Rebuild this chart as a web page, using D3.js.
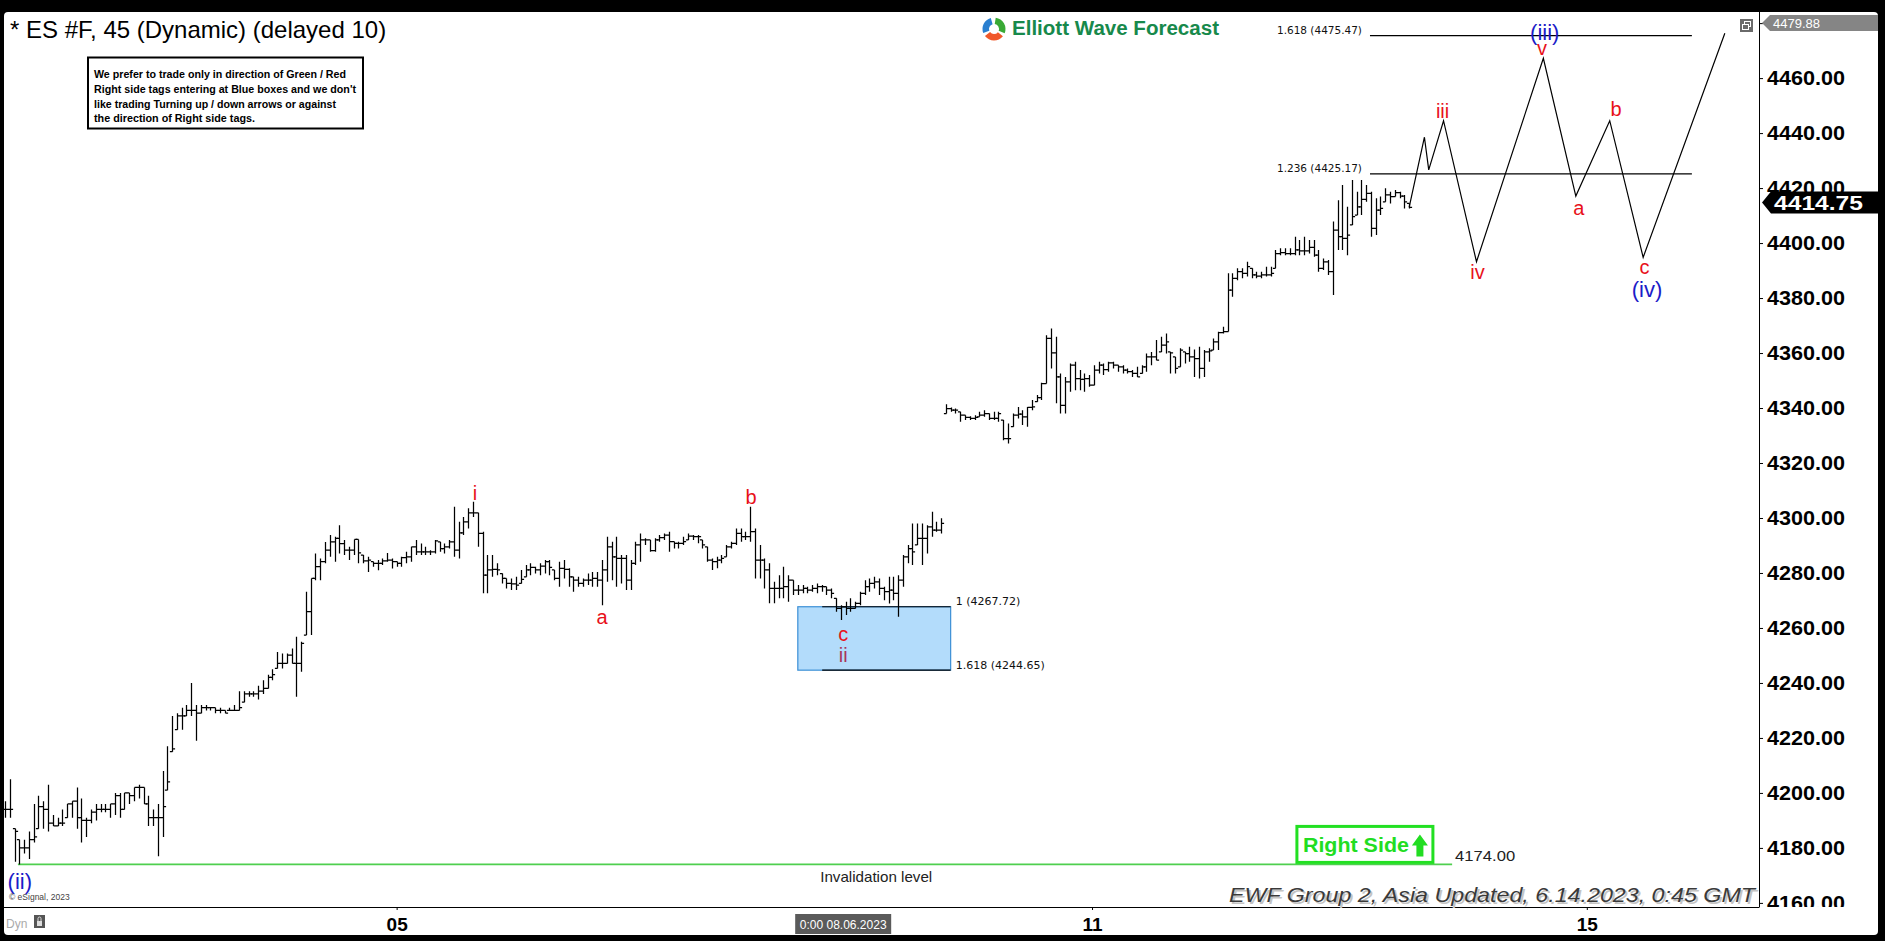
<!DOCTYPE html>
<html><head><meta charset="utf-8">
<script src="https://cdn.jsdelivr.net/npm/d3@7"></script>
<style>html,body{margin:0;padding:0;background:#000;overflow:hidden}</style>
</head><body><svg id="c" width="1885" height="941"></svg>
<script>
// ---------------- DATA ----------------
const barHigh = [
4197,4205,4187,4183,4183,4186,4196,4199,4197,4203,4192,4191,4194,4196,4197,4202,4198,4191,4194,4196,
4196,4196,4196,4200,4200,4200,4200,4202,4203,4202,4199,4194,4196,4208,4217,4228,4229,4231,4232,4240,
4232,4232,4232,4231,4231,4231,4230,4231,4232,4237,4237,4237,4237,4239,4241,4243,4245,
4251.3,4250.7,4250.7,4252.5,4256.8,4255,4273.2,4278,4287.1,4285.3,4291.3,4293.8,4293.2,4297.4,4292,4289.5,4292.2,4292.2,4286.5,4285.9,
4284.1,4284.7,4285.3,4287.3,4285.3,4284.1,4285.9,4287.7,4289.5,4292,4290.7,4289.5,4288.3,4292,4291.3,4290.7,4292,4304.1,4298.6,4300.4,
4303.5,4305.9,4301.9,
4295,4286.5,4286.5,4283.5,4279.8,4278,4278,4278.6,4281.1,4282.9,4283.5,4282.3,4283.5,4284.7,4284.7,4281.1,4284.1,4284.7,4281.7,4278.6,
4278.6,4278,4279.8,4280.4,4280.4,4284.7,4293.2,4291.4,4293.2,4286.5,4286.5,4284.7,4291.4,4294.4,4292.6,4292,4292.6,4293.8,4294.4,4295,
4291.4,4291.4,4293.2,4294.4,4293.8,4293.8,4292,4289.5,4285.3,4285.9,4286.5,4290.2,4291.4,4296.2,4296.2,4295,4304.1,4296.2,4290.2,4285.3,
4283.5,4276.8,4279.2,4282.3,4279.2,4277.4,4275.6,4275.6,4275,4275.6,4276.2,4275.6,4275,4274.4,4270.8,4268.3,4269.5,4270.8,4269.5,4273.2,
4277.4,4278,4278.6,4278,4275,4278.6,4278.6,4279.2,4286.5,4290.2,4298,4298,4298,4297.4,4302.3,4298.6,4299.9,
4341.4,4340.2,4339.8,4338.6,4337.4,4337,4337.4,4338.6,4339.2,4338,4338.6,4338.6,4335.6,4334.4,4338,4340.4,4339.2,4340.4,4342.9,4344.7,
4349.2,4366.5,4368.9,4365.9,4352.6,4351.3,4356.2,4356.8,4353.8,4352.6,4352,4355.6,4356.8,4356.2,4356.8,4356.8,4355.6,4355.6,4354.4,4353.8,
4355,4355.6,4359.8,4360.4,4364.7,4365.9,4367.1,4360.4,4358.6,4361.7,4360.4,4362.3,4361.3,4362.3,4361.1,
4361.7,4365.3,4367.7,4369.6,4389,4389,4390.8,4390.8,4393.2,4390.8,4389.6,4389.6,4391.4,4391.4,4397.5,4398.1,4398.1,4398.1,4402.3,4401.1,
4402.3,4401.1,4401.1,4397.5,4394.4,4393.8,4407.8,4415.6,4421.1,4413.2,4422.9,4418.7,4422.9,4421.1,4418.7,4416.3,4416.9,4419.9,4418.7,4419.3,
4418.7,4417.5,4414.4];
const barLow = [
4191,4191,4175,4174,4178,4176,4182,4187,4187,4186,4188,4188,4188,4191,4191,4187,4182,4184,4189,4190,
4193,4193,4191,4192,4191,4194,4196,4197,4198,4196,4188,4188,4177,4184,4201,4215,4223,4223,4228,4228,
4219,4229,4230,4230,4229,4229,4229,4230,4230,4230,4233,4235,4235,4234,4236,4238,4241,
4245.3,4245.3,4247.1,4247.1,4235,4244.1,4257.4,4257.4,4277.4,4277.4,4283.5,4285.9,4284.1,4287.1,4286.5,4284.7,4286.5,4283.5,4283.5,4280.4,
4282.3,4281,4282.9,4284.1,4281.6,4282.3,4282.3,4283.5,4284.1,4286.5,4286.5,4286.5,4286.5,4287.1,4287.7,4287.1,4288.9,4285.9,4285.3,4293.8,
4296.2,4300.4,4289.5,
4272.6,4272.6,4278.6,4279.2,4276.2,4274.4,4273.8,4273.8,4276.2,4278.6,4279.2,4279.8,4279.2,4279.8,4279.2,4277.4,4275,4278,4275,4273.2,
4275,4275,4275.6,4275,4275,4268.3,4276.8,4277.4,4275,4276.2,4273.8,4273.8,4282.9,4284.1,4290.2,4287.7,4287.7,4291.4,4292,4287.7,
4288.9,4288.9,4290.2,4292,4292,4290.8,4288.9,4284.1,4281.1,4281.7,4283.5,4285.9,4288.9,4290.2,4291.4,4292,4291.4,4278,4278,4274.4,
4269,4269,4270.8,4270.8,4269.5,4272,4272,4272.6,4272.6,4273.2,4272.6,4273.2,4272,4270.8,4265.9,4262.9,4264.7,4265.9,4267.1,4268.3,
4272,4273.2,4274.4,4272,4270.1,4268.9,4270.1,4264.1,4275,4283.5,4282.9,4290.2,4282.9,4287.1,4293.2,4295,4294.4,
4338,4338.6,4338,4335,4335.6,4335.6,4335.6,4336.8,4336.8,4335.6,4335.6,4335,4328.3,4327.1,4333.2,4336.2,4333.8,4333.2,4339.2,4342.3,
4342.9,4348.9,4354.4,4341.7,4338,4338,4345.9,4346.5,4346.5,4345.9,4347.7,4348.3,4352.6,4352,4353.2,4354.4,4353.2,4352.6,4352.6,4351.3,
4351.3,4352.6,4353.2,4355.6,4357.4,4360.4,4359.8,4352.6,4352.6,4355,4356.2,4356.8,4351.3,4350.7,4351.3,
4356.8,4361.1,4361.1,4367.1,4367.8,4380.5,4386.5,4387.2,4387.8,4387.2,4387.2,4387.2,4387.8,4387.8,4390.8,4395.6,4395.6,4395.6,4395.6,4395.6,
4395.6,4396.2,4395,4389.6,4390.2,4388.4,4381.1,4397.5,4397.5,4395.6,4406.6,4410.2,4410.2,4415,4402.3,4402.9,4410.2,4415,4414.4,4416.9,
4416.3,4412.6,4412.6];
const barClose = [
4194,4194,4186,4180,4180,4183,4184,4195,4194,4189,4188,4189,4189,4196,4197,4191,4190,4190,4193,4194,
4194,4194,4196,4199,4194,4200,4199,4202,4202,4196,4191,4191,4191,4195,4204,4216,4228,4228,4230,4230,
4229,4231,4231,4231,4230,4230,4229,4230,4230,4231,4236,4236,4236,4237,4238,4242,4243,
4247.1,4247.1,4250.1,4247.1,4247.1,4254.4,4265.9,4278,4282.3,4284.1,4288.3,4291.3,4292.6,4290.7,4288.3,4288.3,4292.2,4287.3,4284.4,4284.7,
4283.5,4283.5,4284.4,4284.7,4284.1,4283.5,4285.6,4285.9,4289.5,4287.7,4287.7,4287.7,4287.7,4291.7,4288.9,4289.5,4291.3,4288.3,4294.6,4298.6,
4301.9,4301.9,4294.4,
4279.2,4281.1,4281.3,4281.1,4278,4276.2,4276,4275.6,4277.7,4281.1,4282,4281.1,4282.5,4284.1,4282,4278,4281.7,4281.3,4278.6,4277.4,
4276.2,4277.4,4277.4,4278,4277.4,4281.1,4289.5,4285.9,4285.3,4285.3,4277.4,4283.5,4290.2,4292,4292,4288.1,4292,4292.9,4293.8,4291.4,
4290.8,4290.8,4291.4,4293.4,4293.2,4293.2,4290.2,4284.7,4284.1,4284.7,4285.3,4289.5,4290.8,4294.4,4293.2,4293.2,4295,4284.7,4284.7,4281.1,
4274.4,4274.4,4274.4,4275,4277.4,4273.8,4273.8,4274.4,4273.8,4274.4,4275,4275,4273.8,4272.6,4267.1,4267.7,4267.1,4267.1,4268.9,4272.6,
4275,4276.2,4276.8,4274.4,4273.2,4273.8,4272.6,4277.4,4285.9,4288.9,4287.7,4292.6,4292.6,4296.8,4295.6,4295.6,4298,
4339.8,4339.2,4339.2,4337.4,4336.6,4336.2,4336.6,4337.4,4338,4336.2,4336.2,4338,4328.9,4328.9,4337.4,4337.8,4336.8,4340.2,4340.4,4343.8,
4348.9,4365.3,4360.1,4351.3,4341,4349.5,4355.6,4350.7,4350.4,4350.7,4348.3,4353.8,4355.6,4354,4356.4,4355.6,4355,4353.8,4353.2,4352.6,
4351.3,4355,4358.6,4358.6,4357.4,4362.9,4364.1,4360.1,4354.4,4361.1,4359.8,4358.6,4358,4354.4,4360.4,
4360.8,4364.1,4367.4,4367.8,4382.9,4387.2,4389.6,4389,4391.4,4388.4,4388,4388.4,4388.4,4389,4396.2,4396.5,4396.2,4396.2,4397.5,4397.2,
4397.2,4398.4,4395.6,4390.8,4393.2,4389.6,4404.7,4402.3,4401.7,4402.9,4409.6,4413.2,4415.9,4418.1,4405.3,4412,4412.6,4417.5,4416.9,4418.3,
4417.1,4415,4413];

// projected Elliott path (bar index, price)
const projIdx   = [294, 297.2, 298.1, 301.2, 308.1, 322.1, 328.9, 336, 343, 360.1];
const projPrice = [4413, 4438.5, 4426.6, 4444.5, 4393.2, 4467.2, 4417.1, 4444.5, 4394.8, 4476.3];

// wave labels
const waveText   = ["(ii)", "i", "a", "b", "c", "ii", "iii", "iv", "(iii)", "v", "a", "b", "c", "(iv)"];
const waveIdx    = [3.1, 98.4, 125, 156.2, 175.5, 175.5, 301, 308.3, 322.4, 321.8, 329.5, 337.3, 343.3, 343.8];
const wavePrice  = [4167.9, 4309.1, 4264, 4307.8, 4257.9, 4250.1, 4448.2, 4389.6, 4476.6, 4471, 4412.7, 4448.6, 4391.3, 4383];
const waveDegree = ["int", "min", "min", "min", "min", "minbox", "min", "min", "int", "min", "min", "min", "min", "int"];

// fib extension levels
const fibRatio = ["1.618", "1.236"];
const fibPrice = [4475.47, 4425.17];
const fibIdx   = [285.8, 353.2];
const boxRatio = ["1", "1.618"];
const boxPrice = [4267.72, 4244.65];
const boxIdx   = [166, 198];
const boxLineStartIdx = 171.1;

const invalidPrice = 4174.00;
const invalidIdx   = [2.7, 303];

const yTicks = d3.range(4160, 4481, 20);
const xTickLabels = ["05", "11", "15"];
const xTickIdx    = [82, 227.6, 331.2];
const cursorIdx = 175.5, cursorLabel = "0:00 08.06.2023";
const lastPrice = 4414.75, highPrice = 4479.88;

const titleText = "* ES #F, 45 (Dynamic) (delayed 10)";
const noteLines = ["We prefer to trade only in direction of Green / Red",
                   "Right side tags entering at Blue boxes and we don't",
                   "like trading Turning up / down arrows or against",
                   "the direction of Right side tags."];
const footerText = "EWF Group 2, Asia Updated, 6.14.2023, 0:45 GMT";

// ---------------- DRAW ----------------
const FONT = "'Liberation Sans', Arial, sans-serif";
const svg = d3.select("#c");
const P = {l: 4, r: 1759, t: 12, b: 907};
const xs = d3.scaleLinear().domain([0, 367]).range([5, 5 + 367 * 4.776]);
const ys = d3.scaleLinear().domain([4160, 4460]).range([902.9, 78.1]);

svg.append("rect").attr("width", 1885).attr("height", 941).attr("fill", "#000");
svg.append("rect").attr("x", 4).attr("y", 12).attr("width", 1874).attr("height", 923).attr("rx", 4).attr("fill", "#fff");

const defs = svg.append("defs");
defs.append("clipPath").attr("id", "plotClip").append("rect")
  .attr("x", P.l).attr("y", P.t).attr("width", P.r - P.l).attr("height", P.b - P.t);
defs.append("clipPath").attr("id", "axClip").append("rect")
  .attr("x", P.r).attr("y", P.t).attr("width", 130).attr("height", P.b - P.t);

const plot = svg.append("g").attr("clip-path", "url(#plotClip)");

// Title
svg.append("text").attr("x", 10).attr("y", 38).attr("font-family", FONT).attr("font-size", 24)
  .attr("fill", "#000").text(titleText);

// Note box
svg.append("rect").attr("x", 88).attr("y", 57.5).attr("width", 275).attr("height", 71)
  .attr("fill", "#fff").attr("stroke", "#000").attr("stroke-width", 2);
const noteW = [252, 262, 242, 161];
noteLines.forEach((t, k) => {
  svg.append("text").attr("x", 94).attr("y", 78 + k * 14.8).attr("font-family", FONT)
    .attr("font-weight", "bold").attr("font-size", 11.5).attr("fill", "#000")
    .attr("textLength", noteW[k]).attr("lengthAdjust", "spacingAndGlyphs").text(t);
});

// Logo
const logo = svg.append("g").attr("transform", "translate(994,29)");
const arc = d3.arc().innerRadius(5).outerRadius(11.5);
[["#39a935", 0.15, 1.95], ["#f0592a", 2.25, 4.05], ["#2a7fd0", 4.35, 6.0]].forEach(a => {
  logo.append("path").attr("d", arc({startAngle: a[1], endAngle: a[2]})).attr("fill", a[0]);
});
svg.append("text").attr("x", 1012).attr("y", 35).attr("font-family", FONT).attr("font-weight", "bold")
  .attr("font-size", 20).attr("fill", "#17894b").attr("textLength", 207).attr("lengthAdjust", "spacingAndGlyphs")
  .text("Elliott Wave Forecast");

// small window icon top right
svg.append("rect").attr("x", 1740).attr("y", 19).attr("width", 13).attr("height", 13).attr("fill", "#6a6a6a");
svg.append("rect").attr("x", 1744.5).attr("y", 21.5).attr("width", 6).attr("height", 5).attr("fill", "none").attr("stroke", "#fff");
svg.append("rect").attr("x", 1742.5).attr("y", 24.5).attr("width", 6).attr("height", 5).attr("fill", "#6a6a6a").attr("stroke", "#fff");

// Blue box
const bx0 = xs(boxIdx[0]), bx1 = xs(boxIdx[1]);
plot.append("rect").attr("x", bx0).attr("y", ys(boxPrice[0])).attr("width", bx1 - bx0)
  .attr("height", ys(boxPrice[1]) - ys(boxPrice[0])).attr("fill", "#b3dcfb").attr("stroke", "#3b8fd6").attr("stroke-width", 1.2);
boxPrice.forEach((p, k) => {
  plot.append("line").attr("x1", xs(boxLineStartIdx)).attr("x2", bx1).attr("y1", ys(p)).attr("y2", ys(p))
    .attr("stroke", "#000").attr("stroke-width", 1.2);
  svg.append("text").attr("x", bx1 + 5).attr("y", ys(p) - 1.5).attr("font-family", "'DejaVu Sans', Verdana, sans-serif")
    .attr("font-size", 11).attr("fill", "#111").text(`${boxRatio[k]} (${p.toFixed(2)})`);
});

// Fib lines
fibPrice.forEach((p, k) => {
  plot.append("line").attr("x1", xs(fibIdx[0])).attr("x2", xs(fibIdx[1])).attr("y1", ys(p)).attr("y2", ys(p))
    .attr("stroke", "#000").attr("stroke-width", 1.2);
  svg.append("text").attr("x", xs(fibIdx[0]) - 8).attr("y", ys(p) - 2).attr("text-anchor", "end")
    .attr("font-family", "'DejaVu Sans', Verdana, sans-serif").attr("font-size", 10.5).attr("fill", "#111")
    .text(`${fibRatio[k]} (${p.toFixed(2)})`);
});

// Invalidation line
plot.append("line").attr("x1", xs(invalidIdx[0])).attr("x2", xs(invalidIdx[1]))
  .attr("y1", ys(invalidPrice)).attr("y2", ys(invalidPrice)).attr("stroke", "#4fcf4f").attr("stroke-width", 1.6);
svg.append("text").attr("x", xs(invalidIdx[1]) + 3).attr("y", ys(invalidPrice) - 3).attr("font-family", FONT)
  .attr("font-size", 15).attr("fill", "#222").attr("textLength", 60).attr("lengthAdjust", "spacingAndGlyphs")
  .text(invalidPrice.toFixed(2));
svg.append("text").attr("x", xs(cursorIdx) - 23).attr("y", ys(invalidPrice) + 18).attr("font-family", FONT)
  .attr("font-size", 15).attr("fill", "#222").attr("textLength", 112).attr("lengthAdjust", "spacingAndGlyphs")
  .text("Invalidation level");

// Right side tag
const rsx = xs(270.5), rsy = ys(invalidPrice) - 38;
svg.append("rect").attr("x", rsx).attr("y", rsy).attr("width", 136).attr("height", 36)
  .attr("fill", "#fff").attr("stroke", "#22e022").attr("stroke-width", 3);
svg.append("text").attr("x", rsx + 6).attr("y", rsy + 26).attr("font-family", FONT).attr("font-weight", "bold")
  .attr("font-size", 21).attr("fill", "#22dd22").attr("textLength", 106).attr("lengthAdjust", "spacingAndGlyphs")
  .text("Right Side");
const ax = rsx + 123, ay = rsy + 8;
svg.append("path").attr("d", `M${ax - 8},${ay + 11}L${ax},${ay}L${ax + 8},${ay + 11}H${ax + 3.5}V${ay + 22}H${ax - 3.5}V${ay + 11}Z`)
  .attr("fill", "#22dd22");

// Bars
const bars = barClose.map((c, i) => {
  const prev = i ? barClose[i - 1] : c;
  return {i, h: barHigh[i], l: barLow[i], c, o: Math.min(barHigh[i], Math.max(barLow[i], prev))};
});
plot.append("g").selectAll("path").data(bars).join("path")
  .attr("d", d => {
    const x = Math.round(xs(d.i)) + 0.5;
    return `M${x},${ys(d.h)}V${ys(d.l)}M${x - 2.6},${ys(d.o)}H${x}M${x},${ys(d.c)}H${x + 2.6}`;
  })
  .attr("stroke", "#000").attr("stroke-width", 1.25).attr("fill", "none");

// Projection path
const proj = projIdx.map((v, k) => [v, projPrice[k]]);
plot.append("path").attr("d", d3.line().x(d => xs(d[0])).y(d => ys(d[1]))(proj))
  .attr("fill", "none").attr("stroke", "#000").attr("stroke-width", 1.2);

// Wave labels
const degColor = {min: "#e8111a", int: "#1c1cc8", minbox: "#a8345a"};
const degSize = {min: 20, int: 22, minbox: 20};
waveText.forEach((t, k) => {
  svg.append("text").attr("x", xs(waveIdx[k])).attr("y", ys(wavePrice[k])).attr("text-anchor", "middle")
    .attr("dy", "0.35em").attr("font-family", FONT).attr("font-size", degSize[waveDegree[k]])
    .attr("fill", degColor[waveDegree[k]]).text(t);
});

// Right axis
const axG = svg.append("g").attr("clip-path", "url(#axClip)")
  .append("g").attr("transform", `translate(${P.r},0)`)
  .call(d3.axisRight(ys).tickValues(yTicks).tickFormat(d => d.toFixed(2)).tickSize(4).tickPadding(4));
axG.select(".domain").remove();
axG.selectAll("line").attr("stroke", "#000");
axG.selectAll("text").attr("font-family", FONT).attr("font-weight", "bold").attr("font-size", 20)
  .attr("fill", "#000").attr("textLength", 78).attr("lengthAdjust", "spacingAndGlyphs");
svg.append("line").attr("x1", P.r + 0.5).attr("x2", P.r + 0.5).attr("y1", P.t).attr("y2", P.b).attr("stroke", "#000");
svg.append("line").attr("x1", P.l).attr("x2", P.r + 0.5).attr("y1", P.b + 0.5).attr("y2", P.b + 0.5).attr("stroke", "#000");

// High price tag (gray)
const hy = 23;
svg.append("path").attr("d", `M${P.r + 3},${hy}L${P.r + 11},${hy - 8}H1878V${hy + 8}H${P.r + 11}Z`).attr("fill", "#858585");
svg.append("text").attr("x", P.r + 14).attr("y", hy + 5).attr("font-family", FONT).attr("font-size", 13)
  .attr("fill", "#fff").text(highPrice.toFixed(2));

// Last price tag (black)
const ly = ys(lastPrice);
svg.append("path").attr("d", `M${P.r + 3},${ly}L${P.r + 12},${ly - 11}H1880V${ly + 11}H${P.r + 12}Z`).attr("fill", "#000");
svg.append("text").attr("x", P.r + 15).attr("y", ly + 7.5).attr("font-family", FONT).attr("font-weight", "bold")
  .attr("font-size", 21).attr("fill", "#fff").attr("textLength", 89).attr("lengthAdjust", "spacingAndGlyphs")
  .text(lastPrice.toFixed(2));

// Bottom axis
const bx = svg.append("g").attr("transform", `translate(0,${P.b})`)
  .call(d3.axisBottom(xs).tickValues(xTickIdx).tickFormat((d, k) => xTickLabels[k]).tickSize(3).tickPadding(8));
bx.select(".domain").remove();
bx.selectAll("line").attr("stroke", "#000");
bx.selectAll("text").attr("font-family", FONT).attr("font-weight", "bold").attr("font-size", 19).attr("fill", "#000");

// cursor date label
const cx = xs(cursorIdx);
svg.append("rect").attr("x", cx - 48).attr("y", 914).attr("width", 96).attr("height", 20).attr("fill", "#5a5a5a");
svg.append("text").attr("x", cx).attr("y", 929).attr("text-anchor", "middle").attr("font-family", FONT)
  .attr("font-size", 12).attr("fill", "#fff").text(cursorLabel);

// footer
[["#c4c4c4", 2], ["#3a3a3a", 0]].forEach(([c, o]) => {
  svg.append("text").attr("x", 1229 + o).attr("y", 902 + o).attr("font-family", FONT).attr("font-style", "italic")
    .attr("font-size", 21).attr("fill", c).attr("textLength", 526).attr("lengthAdjust", "spacingAndGlyphs").text(footerText);
});

// eSignal / Dyn
svg.append("text").attr("x", 9).attr("y", 900).attr("font-family", FONT).attr("font-size", 8.5).attr("fill", "#444")
  .text("© eSignal, 2023");
svg.append("text").attr("x", 6).attr("y", 928).attr("font-family", FONT).attr("font-size", 12).attr("fill", "#aaa").text("Dyn");
svg.append("rect").attr("x", 34).attr("y", 915).attr("width", 11).attr("height", 13).attr("fill", "#555");
svg.append("rect").attr("x", 37).attr("y", 921).attr("width", 5).attr("height", 5).attr("fill", "#ddd");
svg.append("path").attr("d", "M38,921V918.5a1.5,1.5 0 0 1 3,0V921").attr("fill", "none").attr("stroke", "#ddd");
</script>
</body></html>
